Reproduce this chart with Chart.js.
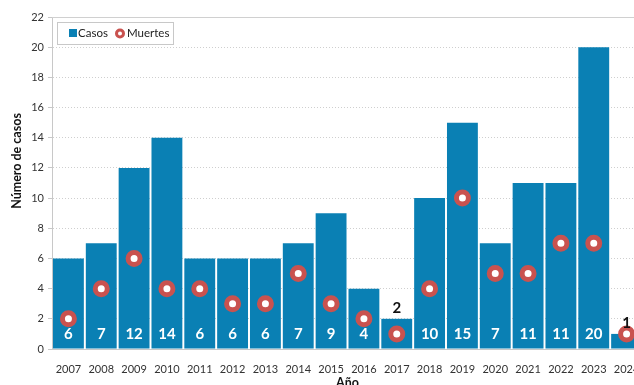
<!DOCTYPE html>
<html>
<head>
<meta charset="utf-8">
<script src="https://cdn.jsdelivr.net/npm/chart.js@4.4.1/dist/chart.umd.min.js"></script>
<style>
  html, body { margin: 0; padding: 0; background: #fff; overflow: hidden; }
  #wrap { width: 634px; height: 385px; overflow: hidden; position: relative; }
  #box { position: absolute; left: 0; top: 0; width: 654px; height: 394px; }
</style>
</head>
<body>
<div id="wrap"><div id="box"><canvas id="chart"></canvas></div></div>
<script>
const years = ['2007', '2008', '2009', '2010', '2011', '2012', '2013', '2014', '2015',
               '2016', '2017', '2018', '2019', '2020', '2021', '2022', '2023', '2024'];
const casos = [6, 7, 12, 14, 6, 6, 6, 7, 9, 4, 2, 10, 15, 7, 11, 11, 20, 1];
const muertes = [2, 4, 6, 4, 4, 3, 3, 5, 3, 2, 1, 4, 10, 5, 5, 7, 7, 1];
const yTicks = [0, 2, 4, 6, 8, 10, 12, 14, 16, 18, 20, 22];

const FONT = 'Lato, "Open Sans", sans-serif';
const BLUE = '#0a80b4';
const RED = '#c9524f';

// numbers inside the bars (above them when the bar is too short)
const barLabels = {
    id: 'barLabels',
    afterDatasetsDraw(chart) {
        const ctx = chart.ctx;
        const meta = chart.getDatasetMeta(1);
        const y = chart.scales.y;
        ctx.save();
        ctx.font = 'bold 15px ' + FONT;
        ctx.textAlign = 'center';
        ctx.textBaseline = 'middle';
        meta.data.forEach((bar, i) => {
            const v = casos[i];
            if (v <= 2) {
                ctx.fillStyle = '#111';
                ctx.fillText(v, bar.x, bar.y - 11);
            } else {
                ctx.fillStyle = '#fff';
                ctx.fillText(v, bar.x, y.getPixelForValue(1));
            }
        });
        ctx.restore();
    }
};

// solid top line, y title and legend box in the upper left corner
const frame = {
    id: 'frame',
    beforeDatasetsDraw(chart) {
        const ctx = chart.ctx;
        const a = chart.chartArea;
        ctx.save();
        ctx.strokeStyle = '#d0d0d0';
        ctx.lineWidth = 1;
        ctx.beginPath();
        ctx.moveTo(a.left, a.top + 0.5);
        ctx.lineTo(a.right, a.top + 0.5);
        ctx.stroke();
        ctx.restore();
    },
    afterDraw(chart) {
        const ctx = chart.ctx;
        const a = chart.chartArea;
        ctx.save();
        ctx.translate(17, 161);
        ctx.rotate(-Math.PI / 2);
        ctx.font = 'bold 12.5px ' + FONT;
        ctx.fillStyle = '#111';
        ctx.textAlign = 'center';
        ctx.textBaseline = 'middle';
        ctx.fillText('Número de casos', 0, 0);
        ctx.restore();

        const x0 = a.left + 5, y0 = a.top + 5;
        ctx.save();
        ctx.fillStyle = '#fff';
        ctx.fillRect(x0, y0, 116, 22);
        ctx.strokeStyle = '#c8c8c8';
        ctx.lineWidth = 1;
        ctx.strokeRect(x0 + 0.5, y0 + 0.5, 116, 22);
        ctx.fillStyle = BLUE;
        ctx.fillRect(x0 + 12, y0 + 7, 8, 8);
        ctx.font = '11.5px ' + FONT;
        ctx.textBaseline = 'middle';
        ctx.fillStyle = '#222';
        ctx.fillText('Casos', x0 + 21, y0 + 11.5);
        ctx.beginPath();
        ctx.arc(x0 + 63, y0 + 11.5, 3.5, 0, Math.PI * 2);
        ctx.fillStyle = '#fff';
        ctx.fill();
        ctx.lineWidth = 3;
        ctx.strokeStyle = RED;
        ctx.stroke();
        ctx.fillStyle = '#222';
        ctx.fillText('Muertes', x0 + 70, y0 + 11.5);
        ctx.restore();
    }
};

new Chart(document.getElementById('chart'), {
    data: {
        labels: years,
        datasets: [
            {
                type: 'line',
                label: 'Muertes',
                data: muertes,
                showLine: false,
                pointRadius: 6,
                pointHoverRadius: 6,
                pointBorderWidth: 5,
                pointBackgroundColor: '#fff',
                pointBorderColor: RED,
                backgroundColor: RED,
                borderColor: RED,
                order: 0
            },
            {
                type: 'bar',
                label: 'Casos',
                data: casos,
                backgroundColor: BLUE,
                barPercentage: 1,
                categoryPercentage: 0.94,
                order: 1
            }
        ]
    },
    plugins: [frame, barLabels],
    options: {
        responsive: true,
        maintainAspectRatio: false,
        animation: false,
        layout: { padding: { top: 17, right: 0, left: 0, bottom: 0 } },
        plugins: {
            legend: { display: false },
            tooltip: { enabled: false }
        },
        scales: {
            x: {
                grid: { display: false },
                border: { color: '#c8c8c8' },
                ticks: { color: '#333', font: { family: FONT, size: 11 }, padding: 6, maxRotation: 0 },
                title: { display: true, text: 'Año', color: '#111', font: { family: FONT, size: 12.5, weight: 'bold' }, padding: { top: 4 } },
                afterFit: s => { s.height = 45; }
            },
            y: {
                min: 0,
                max: 22,
                afterBuildTicks: s => { s.ticks = yTicks.map(v => ({ value: v })); },
                grid: { color: '#cfcfcf', drawTicks: true, tickLength: 4, tickColor: '#c8c8c8' },
                border: { color: '#c8c8c8', dash: [1, 2] },
                ticks: { color: '#333', font: { family: FONT, size: 11 }, padding: 4 },
                afterFit: s => { s.width = 52; }
            }
        }
    }
});
</script>
</body>
</html>
